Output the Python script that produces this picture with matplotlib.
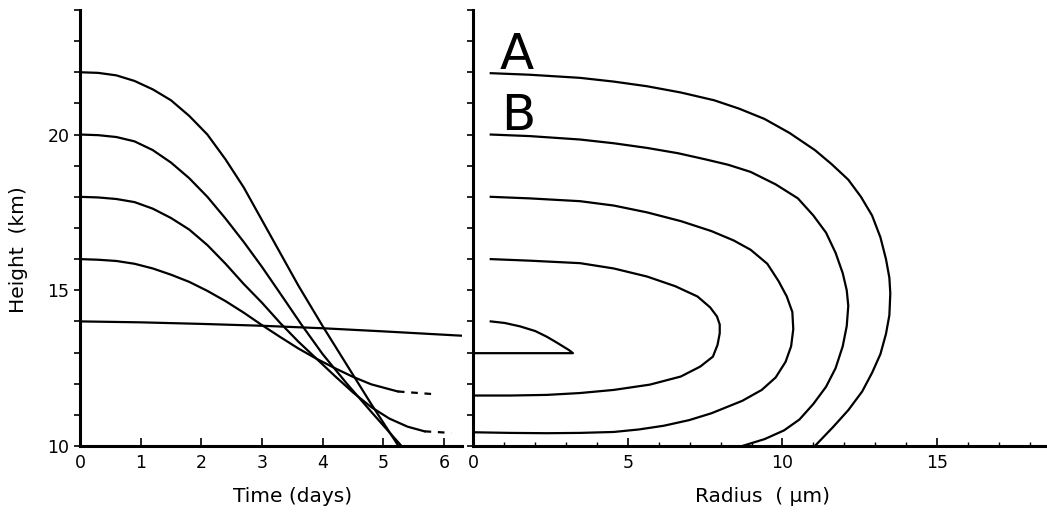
import matplotlib
matplotlib.use('Agg')
import matplotlib.pyplot as plt
from matplotlib.ticker import MultipleLocator, FixedLocator, NullFormatter

plt.rcParams['font.family'] = ['DejaVu Sans']

# height (km) against time (days), one trajectory per starting height
t22 = [0, 0.3, 0.6, 0.9, 1.2, 1.5, 1.8, 2.1, 2.4, 2.7, 3.0, 3.3, 3.6, 4.0, 4.4, 4.8, 5.25]
h22 = [22.0, 21.98, 21.9, 21.72, 21.45, 21.1, 20.6, 20.0, 19.2, 18.3, 17.25, 16.2, 15.15,
       13.85, 12.6, 11.35, 10.0]

t20 = [0, 0.3, 0.6, 0.9, 1.2, 1.5, 1.8, 2.1, 2.4, 2.7, 3.0, 3.3, 3.65, 4.0, 4.4, 4.8, 5.3]
h20 = [20.0, 19.98, 19.92, 19.78, 19.5, 19.1, 18.6, 18.0, 17.3, 16.55, 15.75, 14.9, 13.9,
       12.95, 12.0, 11.1, 10.0]

t18 = [0, 0.3, 0.6, 0.9, 1.2, 1.5, 1.8, 2.1, 2.4, 2.7, 3.0, 3.3, 3.6, 3.9, 4.2, 4.5, 4.8,
       5.1, 5.4, 5.68]
h18 = [18.0, 17.98, 17.93, 17.83, 17.62, 17.32, 16.95, 16.45, 15.85, 15.2, 14.6, 13.95,
       13.35, 12.8, 12.25, 11.72, 11.25, 10.88, 10.62, 10.47]
t18_tail = [5.68, 6.12]
h18_tail = [10.47, 10.42]

t16 = [0, 0.3, 0.6, 0.9, 1.2, 1.5, 1.8, 2.1, 2.4, 2.7, 3.0, 3.3, 3.6, 3.9, 4.2, 4.5, 4.8, 5.24]
h16 = [16.0, 15.98, 15.94, 15.85, 15.7, 15.5, 15.27, 14.98, 14.65, 14.28, 13.88, 13.5,
       13.13, 12.8, 12.5, 12.22, 11.98, 11.75]
t16_tail = [5.24, 5.79]
h16_tail = [11.75, 11.67]

t14 = [0, 1, 2, 3, 4, 5, 6.3]
h14 = [14.0, 13.97, 13.92, 13.86, 13.78, 13.68, 13.54]

# height (km) against droplet radius (um) for the same release heights
rA = [0.56, 1.82, 3.45, 4.54, 5.62, 6.71, 7.79, 8.6, 9.42, 10.23, 11.05, 11.59, 12.13,
      12.54, 12.9, 13.17, 13.35, 13.46, 13.49, 13.46, 13.35, 13.17, 12.9, 12.58, 12.13,
      11.63, 11.05]
hA = [21.97, 21.92, 21.82, 21.7, 21.55, 21.35, 21.1, 20.83, 20.5, 20.05, 19.5, 19.05, 18.55,
      18.0, 17.4, 16.7, 16.0, 15.4, 14.9, 14.2, 13.6, 12.95, 12.35, 11.75, 11.15, 10.6, 10.0]

rB = [0.56, 1.82, 3.45, 4.54, 5.62, 6.62, 7.52, 8.24, 8.97, 9.78, 10.5, 11.0, 11.41, 11.72,
      11.95, 12.08, 12.13, 12.08, 11.95, 11.72, 11.41, 11.0, 10.55, 10.05, 9.42, 8.7]
hB = [20.0, 19.95, 19.84, 19.72, 19.57, 19.4, 19.2, 19.03, 18.8, 18.4, 17.95, 17.4, 16.85,
      16.2, 15.55, 15.0, 14.5, 13.85, 13.2, 12.5, 11.9, 11.35, 10.85, 10.5, 10.22, 10.0]

r18 = [0.56, 1.82, 3.45, 4.54, 5.62, 6.71, 7.7, 8.42, 8.97, 9.51, 9.87, 10.14, 10.32, 10.35,
       10.28, 10.1, 9.78, 9.33, 8.7, 7.7, 6.98, 6.16, 5.35, 4.54, 3.45, 2.37, 1.19, 0.0]
h18r = [18.0, 17.95, 17.86, 17.72, 17.5, 17.22, 16.9, 16.6, 16.3, 15.85, 15.3, 14.8, 14.3,
        13.75, 13.2, 12.7, 12.2, 11.8, 11.45, 11.05, 10.83, 10.65, 10.53, 10.45, 10.42,
        10.41, 10.42, 10.44]

r16 = [0.56, 1.82, 3.45, 4.54, 5.62, 6.53, 7.25, 7.66, 7.88, 7.97, 7.97, 7.9, 7.75, 7.34,
       6.71, 5.71, 4.54, 3.45, 2.37, 1.19, 0.0]
h16r = [16.0, 15.95, 15.87, 15.7, 15.44, 15.13, 14.8, 14.45, 14.16, 13.9, 13.62, 13.25,
        12.87, 12.55, 12.23, 11.97, 11.8, 11.7, 11.64, 11.62, 11.62]

r14 = [0.56, 1.01, 1.51, 2.0, 2.37, 2.68, 2.91, 3.09, 3.22, 0.0]
h14r = [14.0, 13.95, 13.84, 13.69, 13.51, 13.33, 13.19, 13.08, 12.98, 12.98]

lw = 1.6
fs = 12.5
lfs = 14.5

fig = plt.figure(figsize=(10.47, 5.16), dpi=100)
ax1 = fig.add_axes([0.0764, 0.1357, 0.365, 0.845])
ax2 = fig.add_axes([0.4522, 0.1357, 0.546, 0.845])

for t, h in [(t22, h22), (t20, h20), (t18, h18), (t16, h16), (t14, h14)]:
    ax1.plot(t, h, color='black', lw=lw, solid_joinstyle='round')
for t, h in [(t18_tail, h18_tail), (t16_tail, h16_tail)]:
    ax1.plot(t, h, color='black', lw=lw, ls=(0, (3, 3)))

for r, h in [(rA, hA), (rB, hB), (r18, h18r), (r16, h16r), (r14, h14r)]:
    ax2.plot(r, h, color='black', lw=lw, solid_joinstyle='round')

ax2.text(0.86, 22.1, 'A', fontsize=36, ha='left', va='baseline')
ax2.text(0.9, 20.15, 'B', fontsize=36, ha='left', va='baseline')

ax1.set_xlim(0, 6.3)
ax1.set_ylim(10, 24)
ax2.set_xlim(0, 18.5)
ax2.set_ylim(10, 24)

for ax in (ax1, ax2):
    ax.patch.set_alpha(0)
    for side in ('top', 'right'):
        ax.spines[side].set_visible(False)
    for side in ('left', 'bottom'):
        ax.spines[side].set_linewidth(2.2)
    ax.yaxis.set_major_locator(MultipleLocator(5))
    ax.yaxis.set_minor_locator(MultipleLocator(1))
    ax.tick_params(axis='y', which='both', direction='out', length=4, width=1.2,
                   labelsize=fs)

ax1.xaxis.set_major_locator(MultipleLocator(1))
ax1.tick_params(axis='x', direction='in', length=6, width=1.2, labelsize=fs, pad=6)

ax2.xaxis.set_major_locator(FixedLocator([0, 5, 10, 15]))
ax2.xaxis.set_minor_locator(MultipleLocator(1))
ax2.tick_params(axis='x', which='major', direction='in', length=6, width=1.2,
                labelsize=fs, pad=6)
ax2.tick_params(axis='x', which='minor', direction='in', length=3, width=1.0)
ax2.yaxis.set_major_formatter(NullFormatter())

ax1.set_ylabel('Height  (km)', fontsize=lfs)
ax1.yaxis.set_label_coords(-0.135, 0.45)
ax1.set_xlabel('Time (days)', fontsize=lfs)
ax1.xaxis.set_label_coords(0.555, -0.095)
ax2.set_xlabel('Radius  ( μm)', fontsize=lfs)
ax2.xaxis.set_label_coords(0.505, -0.095)

fig.savefig('out.png', dpi=100)
